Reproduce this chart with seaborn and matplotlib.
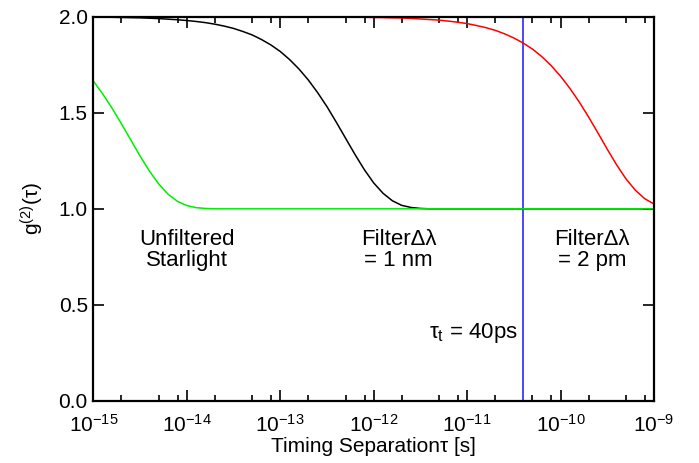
import pandas as pd
import seaborn as sns
import matplotlib.pyplot as plt
from matplotlib.ticker import LogLocator, NullFormatter

# valores (g2 em função da separação temporal), 10 pontos por década
tau_s = [1.000e-15, 1.259e-15, 1.585e-15, 1.995e-15, 2.512e-15, 3.162e-15, 3.981e-15, 5.012e-15, 6.310e-15, 7.943e-15,
         1.000e-14, 1.259e-14, 1.585e-14, 1.995e-14, 2.512e-14, 3.162e-14, 3.981e-14, 5.012e-14, 6.310e-14, 7.943e-14,
         1.000e-13, 1.259e-13, 1.585e-13, 1.995e-13, 2.512e-13, 3.162e-13, 3.981e-13, 5.012e-13, 6.310e-13, 7.943e-13,
         1.000e-12, 1.259e-12, 1.585e-12, 1.995e-12, 2.512e-12, 3.162e-12, 3.981e-12, 5.012e-12, 6.310e-12, 7.943e-12,
         1.000e-11, 1.259e-11, 1.585e-11, 1.995e-11, 2.512e-11, 3.162e-11, 3.981e-11, 5.012e-11, 6.310e-11, 7.943e-11,
         1.000e-10, 1.259e-10, 1.585e-10, 1.995e-10, 2.512e-10, 3.162e-10, 3.981e-10, 5.012e-10, 6.310e-10, 7.943e-10,
         1.000e-9]

g2_unfiltered = [1.665, 1.598, 1.524, 1.443, 1.359, 1.275, 1.197, 1.129, 1.076, 1.039,
                 1.017, 1.006, 1.002, 1.000, 1.000, 1.000, 1.000, 1.000, 1.000, 1.000,
                 1.000, 1.000, 1.000, 1.000, 1.000, 1.000, 1.000, 1.000, 1.000, 1.000,
                 1.000, 1.000, 1.000, 1.000, 1.000, 1.000, 1.000, 1.000, 1.000, 1.000,
                 1.000, 1.000, 1.000, 1.000, 1.000, 1.000, 1.000, 1.000, 1.000, 1.000,
                 1.000, 1.000, 1.000, 1.000, 1.000, 1.000, 1.000, 1.000, 1.000, 1.000,
                 1.000]

g2_1nm = [1.998, 1.997, 1.997, 1.996, 1.995, 1.994, 1.992, 1.990, 1.987, 1.984,
          1.980, 1.975, 1.969, 1.961, 1.951, 1.939, 1.923, 1.905, 1.881, 1.853,
          1.819, 1.777, 1.728, 1.671, 1.605, 1.532, 1.451, 1.367, 1.283, 1.204,
          1.135, 1.081, 1.042, 1.018, 1.007, 1.002, 1.000, 1.000, 1.000, 1.000,
          1.000, 1.000, 1.000, 1.000, 1.000, 1.000, 1.000, 1.000, 1.000, 1.000,
          1.000, 1.000, 1.000, 1.000, 1.000, 1.000, 1.000, 1.000, 1.000, 1.000,
          1.000]

g2_2pm = [2.000, 2.000, 2.000, 2.000, 2.000, 2.000, 2.000, 2.000, 2.000, 2.000,
          2.000, 2.000, 2.000, 2.000, 2.000, 2.000, 2.000, 2.000, 2.000, 2.000,
          2.000, 2.000, 1.999, 1.999, 1.999, 1.999, 1.999, 1.998, 1.998, 1.997,
          1.996, 1.995, 1.994, 1.993, 1.991, 1.988, 1.985, 1.982, 1.977, 1.971,
          1.964, 1.954, 1.943, 1.929, 1.911, 1.889, 1.863, 1.831, 1.792, 1.745,
          1.690, 1.627, 1.556, 1.478, 1.395, 1.310, 1.229, 1.156, 1.097, 1.053,
          1.025]

tau_t = 4.0e-11

x_ticks = [1e-15, 1e-14, 1e-13, 1e-12, 1e-11, 1e-10, 1e-9]
x_tick_labels = [r'$10^{-15}$', r'$10^{-14}$', r'$10^{-13}$', r'$10^{-12}$',
                 r'$10^{-11}$', r'$10^{-10}$', r'$10^{-9}$']
y_ticks = [0.0, 0.5, 1.0, 1.5, 2.0]
y_tick_labels = ['0.0', '0.5', '1.0', '1.5', '2.0']

series = {'2 pm': g2_2pm, '1 nm': g2_1nm, 'sem filtro': g2_unfiltered}
df = pd.concat([pd.DataFrame({'tau': tau_s, 'g2': v, 'filtro': k})
                for k, v in series.items()], ignore_index=True)

sns.set_theme(style="ticks")
plt.rcParams['font.family'] = ['Liberation Sans', 'DejaVu Sans']
plt.rcParams['mathtext.fontset'] = 'custom'
plt.rcParams['mathtext.rm'] = 'Liberation Sans'
plt.rcParams['mathtext.it'] = 'Liberation Sans'
plt.rcParams['mathtext.default'] = 'regular'
plt.rcParams['text.color'] = 'black'
plt.rcParams['axes.labelcolor'] = 'black'

fig, ax = plt.subplots(figsize=(6.99, 4.63), dpi=100)
fig.subplots_adjust(left=0.1335, right=0.9356, top=0.964, bottom=0.134)

ax.axvline(tau_t, color='#2a2aff', linewidth=1.2)

sns.lineplot(data=df, x='tau', y='g2', hue='filtro',
             hue_order=['2 pm', '1 nm', 'sem filtro'],
             palette={'2 pm': '#ff0000', '1 nm': '#000000', 'sem filtro': '#00ee00'},
             linewidth=1.1, legend=False, ax=ax)

ax.set_xscale('log')
ax.set_xlim(1e-15, 1e-9)
ax.set_ylim(0, 2)
ax.set_xticks(x_ticks)
ax.set_xticklabels(x_tick_labels)
ax.xaxis.set_minor_locator(LogLocator(base=10, subs=[2, 5, 8]))
ax.xaxis.set_minor_formatter(NullFormatter())
ax.set_yticks(y_ticks)
ax.set_yticklabels(y_tick_labels)

ax.tick_params(which='both', direction='in', top=True, right=True,
               colors='black', labelsize=15, width=1.2)
ax.tick_params(which='major', length=8)
ax.tick_params(which='minor', length=4)
ax.tick_params(axis='x', which='major', pad=9)
ax.tick_params(axis='y', which='major', pad=4)
for s in ax.spines.values():
    s.set_linewidth(1.6)
    s.set_color('black')

ax.set_xlabel('Timing Separationτ [s]', fontsize=15, labelpad=1, color='black')
ax.set_ylabel('g$^{(2)}$(τ)', fontsize=15, labelpad=9, color='black')

# rótulos das curvas
ax.text(1.0e-14, 0.787, 'Unfiltered\nStarlight', ha='center', va='center',
        fontsize=16, linespacing=1.0, color='black')
ax.text(1.85e-12, 0.787, 'FilterΔλ\n= 1 nm', ha='center', va='center',
        fontsize=16, linespacing=1.0, color='black')
ax.text(2.19e-10, 0.787, 'FilterΔλ\n= 2 pm', ha='center', va='center',
        fontsize=16, linespacing=1.0, color='black')
ax.text(3.47e-11, 0.353, r'τ$_t$ = 40ps', ha='right', va='center',
        fontsize=16, color='black')

plt.savefig('out.png', dpi=100)
